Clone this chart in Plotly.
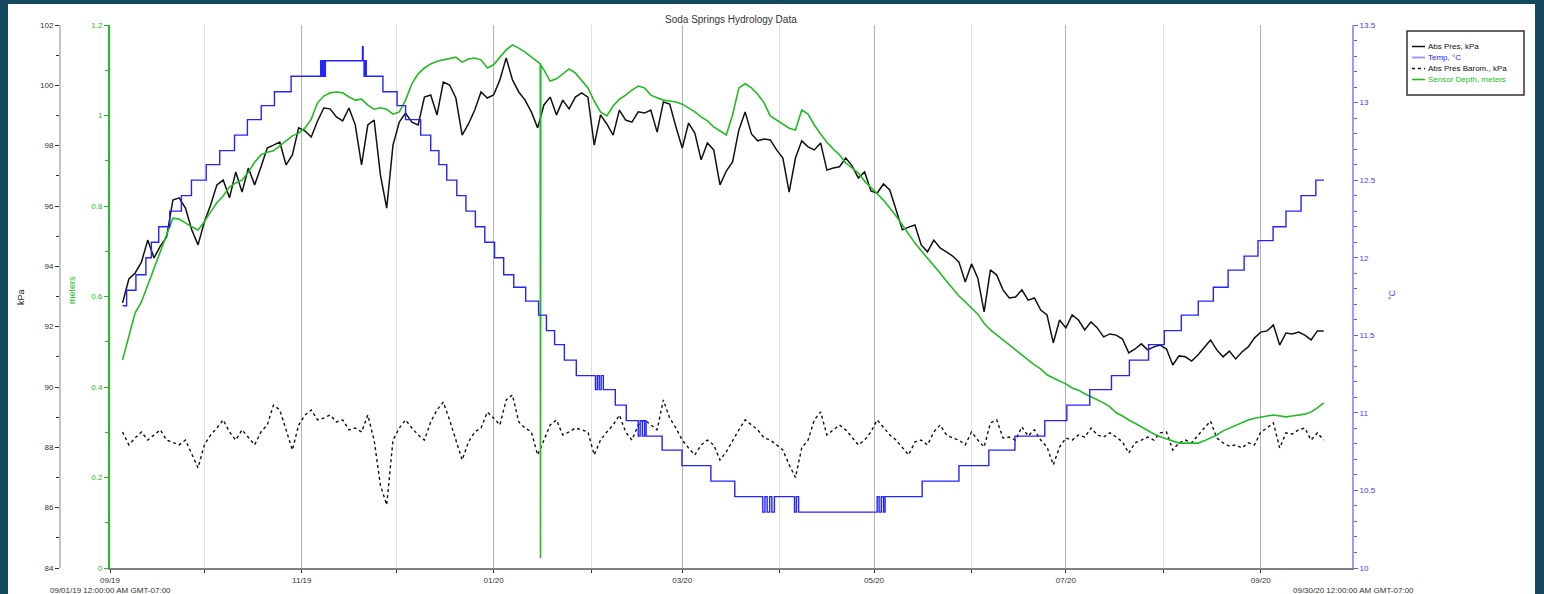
import pandas as pd
import plotly.graph_objects as go

# ---------------- data ----------------
series_start = "2019-09-05"      # first reading; readings every 2 days
abs_pres_kpa = [
    92.79, 93.58, 93.78, 94.14, 94.87, 94.28, 94.67, 94.97, 96.20, 96.27,
    95.93, 95.21, 94.71, 95.47, 96.03, 96.70, 96.86, 96.27, 97.13, 96.46,
    97.26, 96.70, 97.29, 97.92, 98.02, 98.12, 97.36, 97.69, 98.59, 98.49,
    98.29, 98.82, 99.25, 99.22, 98.95, 98.82, 99.25, 98.69, 97.36, 98.69,
    98.85, 97.03, 95.93, 98.02, 98.78, 99.08, 98.78, 98.69, 99.61, 99.68,
    99.02, 100.11, 100.01, 99.58, 98.35, 98.72, 99.18, 99.78, 99.58, 99.68,
    100.18, 100.91, 100.18, 99.78, 99.51, 99.12, 98.59, 99.35, 99.61, 99.02,
    99.51, 99.22, 99.61, 99.75, 99.61, 98.02, 99.02, 98.72, 98.35, 99.18,
    98.85, 98.78, 99.12, 99.08, 99.18, 98.45, 99.45, 99.38, 98.62, 97.92,
    98.75, 98.42, 97.53, 98.09, 97.86, 96.70, 97.16, 97.46, 98.52, 99.12,
    98.39, 98.16, 98.22, 98.19, 97.86, 97.59, 96.46, 97.59, 98.16, 97.96,
    97.86, 98.09, 97.19, 97.26, 97.30, 97.59, 97.33, 96.93, 97.13, 96.50,
    96.43, 96.73, 96.53, 95.87, 95.21, 95.30, 95.37, 94.71, 94.48, 94.87,
    94.61, 94.48, 94.34, 94.14, 93.48, 94.08, 93.61, 92.49, 93.88, 93.71,
    93.22, 92.95, 92.98, 93.22, 92.88, 92.95, 92.55, 92.39, 91.46, 92.22,
    91.96, 92.39, 92.22, 91.89, 92.16, 91.96, 91.66, 91.76, 91.72, 91.59,
    91.13, 91.26, 91.43, 91.23, 91.33, 91.39, 91.26, 90.73, 91.03, 91.00,
    90.86, 91.06, 91.33, 91.56, 91.23, 91.00, 91.19, 90.93, 91.16, 91.33,
    91.63, 91.82, 91.86, 92.06, 91.39, 91.79, 91.76, 91.82, 91.72, 91.56,
    91.86, 91.86,
]
baro_kpa = [
    88.51, 88.08, 88.31, 88.51, 88.24, 88.41, 88.58, 88.24, 88.15, 88.08,
    88.24, 87.75, 87.32, 88.08, 88.41, 88.64, 88.91, 88.51, 88.24, 88.58,
    88.31, 88.08, 88.51, 88.74, 89.40, 89.24, 88.58, 87.91, 88.74, 89.07,
    89.24, 88.91, 88.97, 89.07, 88.84, 88.91, 88.58, 88.64, 88.51, 89.07,
    88.24, 86.75, 86.09, 88.24, 88.64, 88.91, 88.64, 88.41, 88.24, 88.84,
    89.24, 89.50, 88.91, 88.24, 87.58, 88.18, 88.51, 88.64, 89.17, 88.97,
    88.74, 89.57, 89.74, 88.84, 88.64, 88.51, 87.75, 88.24, 88.74, 88.91,
    88.41, 88.51, 88.64, 88.58, 88.51, 87.75, 88.24, 88.51, 88.74, 89.07,
    88.51, 88.24, 88.74, 88.91, 88.74, 88.58, 89.57, 88.97, 88.64, 88.24,
    87.98, 87.75, 88.08, 88.24, 88.08, 87.58, 87.85, 88.24, 88.58, 88.91,
    88.74, 88.58, 88.31, 88.24, 88.08, 87.91, 87.42, 87.00, 87.98, 88.24,
    88.91, 89.17, 88.41, 88.58, 88.74, 88.58, 88.31, 88.08, 88.24, 88.51,
    88.91, 88.64, 88.41, 88.24, 87.98, 87.75, 88.18, 88.24, 88.08, 88.51,
    88.74, 88.41, 88.31, 88.24, 88.08, 88.51, 88.24, 88.01, 88.81, 88.91,
    88.31, 88.34, 88.24, 88.68, 88.38, 88.58, 88.24, 88.01, 87.42, 88.01,
    88.31, 88.24, 88.41, 88.34, 88.64, 88.41, 88.34, 88.48, 88.34, 88.18,
    87.81, 88.15, 88.24, 88.34, 88.24, 88.48, 88.51, 87.91, 88.15, 88.24,
    88.15, 88.41, 88.64, 88.87, 88.31, 88.15, 88.04, 88.08, 87.98, 88.15,
    88.08, 88.51, 88.64, 88.81, 87.98, 88.48, 88.44, 88.58, 88.64, 88.24,
    88.48, 88.24,
]
depth_m = [
    0.460, 0.510, 0.564, 0.588, 0.625, 0.663, 0.698, 0.736, 0.773, 0.771,
    0.762, 0.754, 0.747, 0.765, 0.787, 0.807, 0.822, 0.842, 0.851, 0.857,
    0.875, 0.897, 0.913, 0.919, 0.922, 0.933, 0.946, 0.955, 0.961, 0.972,
    0.992, 1.028, 1.043, 1.050, 1.052, 1.050, 1.041, 1.034, 1.036, 1.023,
    1.014, 1.017, 1.014, 1.003, 1.008, 1.034, 1.070, 1.092, 1.105, 1.114,
    1.120, 1.123, 1.127, 1.129, 1.118, 1.125, 1.127, 1.123, 1.105, 1.112,
    1.129, 1.145, 1.156, 1.149, 1.140, 1.129, 1.118, 1.101, 1.076, 1.081,
    1.092, 1.103, 1.094, 1.078, 1.061, 1.032, 1.008, 0.999, 1.021, 1.036,
    1.045, 1.056, 1.065, 1.061, 1.045, 1.039, 1.034, 1.032, 1.030, 1.025,
    1.017, 1.008, 0.997, 0.988, 0.975, 0.966, 0.957, 1.001, 1.061, 1.070,
    1.061, 1.047, 1.028, 0.999, 0.990, 0.981, 0.972, 0.968, 1.012, 1.003,
    0.979, 0.959, 0.941, 0.926, 0.913, 0.895, 0.884, 0.873, 0.855, 0.840,
    0.827, 0.813, 0.796, 0.778, 0.758, 0.738, 0.718, 0.701, 0.685, 0.667,
    0.652, 0.634, 0.617, 0.601, 0.588, 0.575, 0.561, 0.541, 0.526, 0.515,
    0.504, 0.491, 0.482, 0.469, 0.460, 0.449, 0.440, 0.427, 0.420, 0.413,
    0.407, 0.398, 0.393, 0.385, 0.378, 0.371, 0.365, 0.356, 0.343, 0.336,
    0.327, 0.320, 0.312, 0.305, 0.296, 0.290, 0.285, 0.281, 0.276, 0.276,
    0.276, 0.276, 0.281, 0.287, 0.294, 0.303, 0.309, 0.314, 0.320, 0.327,
    0.331, 0.334, 0.336, 0.338, 0.336, 0.334, 0.336, 0.338, 0.340, 0.345,
    0.354, 0.365,
]
# short sensor drop-out in mid January
depth_glitch_time = ["2020-01-15 20:00", "2020-01-15 22:00", "2020-01-16 00:00"]
depth_glitch_m = [1.114, 0.022, 1.112]

# temperature (stepwise logger readings): days since 2019-09-01 00:00, deg C
temp_origin = "2019-09-01"
temp_day = [4.03, 5.29, 8.24, 11.41, 13.15, 15.5, 19.0, 22.7, 25.9, 30.6, 34.9, 39.6,
            43.7, 48.1, 52.3, 57.6, 67.0, 67.4, 67.8, 68.1, 68.5, 80.3, 80.5, 80.8,
            81.1, 81.5, 86.8, 91.3, 94.0, 98.8, 102.0, 104.6, 107.1, 110.3, 113.2,
            116.2, 119.2, 122.3, 125.2, 128.4, 132.2, 136.3, 138.8, 141.4, 144.5,
            148.3, 154.4, 155.0, 155.6, 156.2, 156.9, 160.7, 164.2, 168.0, 168.6,
            169.3, 170.0, 170.5, 175.6, 181.9, 191.1, 198.7, 207.6, 208.3, 209.0,
            209.8, 210.5, 211.3, 217.7, 218.3, 219.0, 244.0, 244.6, 245.3, 246.0,
            246.5, 258.3, 270.0, 279.5, 287.8, 297.3, 304.3, 311.6, 318.5, 324.2,
            330.3, 335.3, 340.7, 346.1, 350.9, 355.6, 360.7, 365.1, 369.9, 374.0,
            378.8, 383.5, 386.1]
temp_c = [11.69, 11.79, 11.89, 12.00, 12.10, 12.20, 12.30, 12.40, 12.50, 12.60, 12.69, 12.79,
          12.89, 12.98, 13.07, 13.17, 13.27, 13.17, 13.27, 13.17, 13.27, 13.36, 13.27, 13.17,
          13.27, 13.17, 13.07, 12.98, 12.89, 12.79, 12.69, 12.60, 12.50, 12.40, 12.30,
          12.20, 12.10, 12.00, 11.89, 11.81, 11.72, 11.63, 11.53, 11.44, 11.34,
          11.24, 11.15, 11.24, 11.15, 11.24, 11.15, 11.05, 10.95, 10.85, 10.95,
          10.85, 10.95, 10.85, 10.76, 10.66, 10.56, 10.46, 10.36, 10.46, 10.36,
          10.46, 10.36, 10.46, 10.36, 10.46, 10.36, 10.46, 10.36, 10.46, 10.36,
          10.46, 10.56, 10.66, 10.76, 10.85, 10.95, 11.05, 11.15, 11.24, 11.34,
          11.44, 11.53, 11.63, 11.72, 11.81, 11.92, 12.01, 12.11, 12.20, 12.30,
          12.40, 12.50, 12.50]

x_range = ["2019-09-01", "2020-09-30"]
legend_names = ["Abs Pres, kPa", "Temp, \u00b0C", "Abs Pres Barom., kPa", "Sensor Depth, meters"]
title_text = "Soda Springs Hydrology Data"
start_label = "09/01/19 12:00:00 AM GMT-07:00"
end_label = "09/30/20 12:00:00 AM GMT-07:00"

# ---------------- build ----------------
t_grid = pd.date_range(series_start, periods=len(abs_pres_kpa), freq="2D")
depth_df = pd.concat([
    pd.DataFrame({"t": t_grid, "d": depth_m}),
    pd.DataFrame({"t": pd.to_datetime(depth_glitch_time), "d": depth_glitch_m}),
]).sort_values("t")
t_temp = pd.Timestamp(temp_origin) + pd.to_timedelta(temp_day, unit="D")

W, H = 1544, 594
ML, MR, MT, MB = 10, 10, 25, 26
PW, PH = W - ML - MR, H - MT - MB
DARK = "#14485f"


def fx(p):
    return (p - ML) / PW


def fy(p):
    return (H - MB - p) / PH


BLACK = "#111111"
GREEN = "#22bb22"
BLUE = "#2424ff"
LBLUE = "#9a9aff"
FONT = "Liberation Sans, Arial, sans-serif"

fig = go.Figure()
fig.add_trace(go.Scatter(x=t_temp, y=temp_c, mode="lines", yaxis="y3", name=legend_names[1],
                         line=dict(color=BLUE, width=1.4, shape="hv"), showlegend=False))
fig.add_trace(go.Scatter(x=t_grid, y=baro_kpa, mode="lines", yaxis="y", name=legend_names[2],
                         line=dict(color=BLACK, width=1.4, dash="dot"), showlegend=False))
fig.add_trace(go.Scatter(x=t_grid, y=abs_pres_kpa, mode="lines", yaxis="y", name=legend_names[0],
                         line=dict(color=BLACK, width=1.5), showlegend=False))
fig.add_trace(go.Scatter(x=depth_df["t"], y=depth_df["d"], mode="lines", yaxis="y2",
                         name=legend_names[3], line=dict(color=GREEN, width=1.6), showlegend=False))

tickfont = dict(family=FONT, size=8, color="#333333")
fig.update_layout(
    width=W, height=H,
    margin=dict(l=ML, r=MR, t=MT, b=MB, autoexpand=False),
    paper_bgcolor=DARK,
    plot_bgcolor="white",
    font=dict(family=FONT, size=9, color="#333333"),
    showlegend=False,
    hovermode=False,
    xaxis=dict(
        type="date", range=x_range, domain=[fx(110), fx(1352)], anchor="y",
        dtick="M2", tick0="2019-09-01", tickformat="%m/%y", automargin=False,
        showgrid=True, gridcolor="#b4b4b4", gridwidth=1,
        minor=dict(dtick="M1", tick0="2019-09-01", showgrid=True, gridcolor="#e0e0e0",
                   ticks="outside", ticklen=3, tickcolor="#333333"),
        ticks="outside", ticklen=3, tickcolor="#333333",
        showline=True, linecolor="#808080", linewidth=2,
        tickfont=tickfont, zeroline=False,
    ),
    yaxis=dict(
        range=[84, 102], dtick=2, anchor="free", position=fx(60), side="left",
        automargin=False,
        showgrid=False, zeroline=False, showline=True, linecolor="#c4c4c4", linewidth=2,
        ticks="outside", ticklen=4, tickcolor="#333333", tickfont=tickfont,
        minor=dict(dtick=1, ticks="outside", ticklen=3, tickcolor="#333333"),
    ),
    yaxis2=dict(
        range=[0, 1.2], dtick=0.2, overlaying="y", anchor="x", side="left",
        automargin=False,
        showgrid=False, zeroline=False, showline=True, linecolor=GREEN, linewidth=2,
        ticks="outside", ticklen=4, tickcolor=GREEN,
        tickfont=dict(family=FONT, size=8, color=GREEN),
        minor=dict(dtick=0.1, ticks="outside", ticklen=3, tickcolor=GREEN),
    ),
    yaxis3=dict(
        range=[10, 13.5], dtick=0.5, overlaying="y", anchor="x", side="right",
        automargin=False,
        showgrid=False, zeroline=False, showline=True, linecolor=LBLUE, linewidth=2,
        ticks="outside", ticklen=4, tickcolor="#5a5aff",
        tickfont=dict(family=FONT, size=8, color="#3c3cff"),
        minor=dict(dtick=0.1, ticks="outside", ticklen=3, tickcolor="#5a5aff"),
    ),
)

shapes = [
    dict(type="rect", xref="paper", yref="paper", x0=fx(8), x1=fx(1535), y0=fy(600), y1=fy(4),
         fillcolor="white", line=dict(width=0), layer="below"),
    dict(type="rect", xref="paper", yref="paper", x0=fx(1407), x1=fx(1524), y0=fy(95), y1=fy(31),
         fillcolor="white", line=dict(color="#333333", width=1.5), layer="above"),
]
leg_rows = [46.5, 57.5, 68.5, 79.5]
leg_styles = [dict(color=BLACK, width=1.5), dict(color=LBLUE, width=2),
              dict(color=BLACK, width=1.5, dash="dot"), dict(color=GREEN, width=1.6)]
leg_text_colors = [BLACK, BLUE, BLACK, GREEN]
annotations = []
for yy, st, name, col in zip(leg_rows, leg_styles, legend_names, leg_text_colors):
    shapes.append(dict(type="line", xref="paper", yref="paper", x0=fx(1412), x1=fx(1425),
                       y0=fy(yy), y1=fy(yy), line=st, layer="above"))
    annotations.append(dict(xref="paper", yref="paper", x=fx(1426), y=fy(yy), text=name,
                            showarrow=False, xanchor="left", yanchor="middle",
                            font=dict(family=FONT, size=8, color=col)))

annotations += [
    dict(xref="paper", yref="paper", x=fx(731), y=fy(19), text=title_text, showarrow=False,
         xanchor="center", yanchor="middle", font=dict(family=FONT, size=10, color="#333333")),
    dict(xref="paper", yref="paper", x=fx(21), y=fy(297), text="kPa", showarrow=False,
         textangle=-90, xanchor="center", yanchor="middle",
         font=dict(family=FONT, size=9, color="#222222")),
    dict(xref="paper", yref="paper", x=fx(72), y=fy(290), text="meters", showarrow=False,
         textangle=-90, xanchor="center", yanchor="middle",
         font=dict(family=FONT, size=9, color=GREEN)),
    dict(xref="paper", yref="paper", x=fx(1392), y=fy(295), text="\u00b0C", showarrow=False,
         textangle=-90, xanchor="center", yanchor="middle",
         font=dict(family=FONT, size=9, color="#3c3cff")),
    dict(xref="paper", yref="paper", x=fx(110), y=fy(585), text=start_label, showarrow=False,
         xanchor="center", yanchor="top", borderpad=0,
         font=dict(family=FONT, size=8, color="#333333")),
    dict(xref="paper", yref="paper", x=fx(1353), y=fy(585), text=end_label, showarrow=False,
         xanchor="center", yanchor="top", borderpad=0,
         font=dict(family=FONT, size=8, color="#333333")),
]
fig.update_layout(shapes=shapes, annotations=annotations)

page_js = ("document.body.style.margin='0';document.body.style.padding='0';"
           "document.body.style.overflow='hidden';"
           "document.body.style.background='" + DARK + "';")
fig.write_html("out.html", post_script=page_js,
               config={"displayModeBar": False, "staticPlot": True})
